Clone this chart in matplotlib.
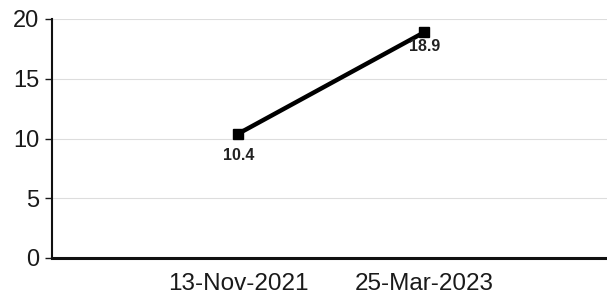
import matplotlib
matplotlib.use("Agg")
import matplotlib.pyplot as plt

categories = ["13-Nov-2021", "25-Mar-2023"]
values = [10.4, 18.9]
yticks = [0, 5, 10, 15, 20]

plt.rcParams['font.family'] = ['Liberation Sans', 'DejaVu Sans']

fig = plt.figure(figsize=(6.07, 3.0), dpi=100)
ax = fig.add_axes([52/607, 1-258/300, 1-52/607, (258-19)/300])

x = list(range(len(categories)))
ax.plot(x, values, color='black', lw=3.2, marker='s', markersize=7, zorder=3)
label_offsets = [-16, -10]
for xi, v, off in zip(x, values, label_offsets):
    ax.annotate(f"{v}", (xi, v), xytext=(0, off), textcoords='offset points',
                ha='center', va='center', fontsize=11.5, fontweight='bold', color='#222222')

ax.set_xlim(-1, 1.98)
ax.set_ylim(0, 20)
ax.set_yticks(yticks)
ax.set_xticks(x)
ax.set_xticklabels(categories)
ax.tick_params(axis='x', length=0, pad=10.5, labelsize=17.5, colors='#1a1a1a')
ax.tick_params(axis='y', length=5, width=1, pad=4, labelsize=17, colors='#1a1a1a')
ax.grid(axis='y', color='#dddddd', lw=0.8)
ax.set_axisbelow(True)
for s in ['top', 'right']:
    ax.spines[s].set_visible(False)
ax.spines['left'].set_linewidth(1.5)
ax.spines['bottom'].set_linewidth(2.2)
ax.spines['left'].set_color('#111111')
ax.spines['bottom'].set_color('#111111')

fig.savefig("out.png", dpi=100)
